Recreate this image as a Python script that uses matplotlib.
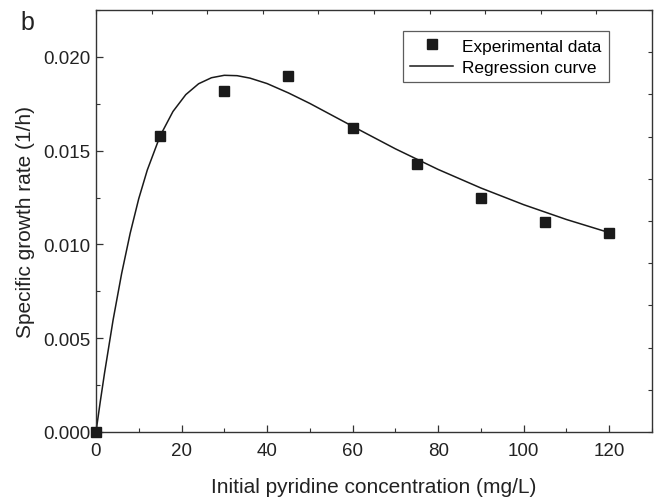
import numpy as np
import matplotlib
matplotlib.use("Agg")
import matplotlib.pyplot as plt
from matplotlib.ticker import MultipleLocator

# Experimental points
conc = [0, 15, 30, 45, 60, 75, 90, 105, 120]
rate = [0.0, 0.0158, 0.0182, 0.0190, 0.0162, 0.0143, 0.0125, 0.0112, 0.0106]

# Regression curve
curve_x = [0, 1, 2, 4, 6, 8, 10, 12, 15, 18, 21, 24, 27, 30, 33, 36, 40,
           45, 50, 55, 60, 70, 80, 90, 100, 110, 120]
curve_y = [0.0, 0.00161, 0.00314, 0.00597, 0.00845, 0.01060, 0.01244,
           0.01397, 0.01579, 0.01709, 0.01799, 0.01857, 0.01889, 0.01902,
           0.01900, 0.01887, 0.01858, 0.01808, 0.01752, 0.01691, 0.01630,
           0.01510, 0.01400, 0.01301, 0.01212, 0.01133, 0.01063]

plt.rcParams["font.family"] = ["Liberation Sans", "DejaVu Sans"]

fig = plt.figure(figsize=(6.56, 5.02), dpi=100)
ax = fig.add_axes([0.1463, 0.1375, 0.8476, 0.8405])

ax.plot(curve_x, curve_y, color="#1a1a1a", linewidth=1.1,
        label="Regression curve", zorder=2)
ax.plot(conc, rate, linestyle="none", marker="s", markersize=6.5,
        color="#1a1a1a", label="Experimental data", zorder=3, clip_on=False)

ax.set_xlim(0, 130)
ax.set_ylim(0, 0.0225)
ax.xaxis.set_major_locator(MultipleLocator(20))
ax.xaxis.set_minor_locator(MultipleLocator(10))
ax.yaxis.set_major_locator(MultipleLocator(0.005))
ax.yaxis.set_minor_locator(MultipleLocator(0.0025))
ax.yaxis.set_major_formatter(matplotlib.ticker.FormatStrFormatter("%.3f"))
ax.tick_params(which="both", direction="in", labelsize=13.5, color="#333333",
               labelcolor="#222222")
ax.tick_params(which="major", length=5, width=0.9)
ax.tick_params(which="minor", length=3, width=0.8)
ax.tick_params(axis="x", pad=7)
ax.tick_params(axis="y", pad=4)
for s in ax.spines.values():
    s.set_linewidth(1.0)
    s.set_color("#333333")

# top / right ticks follow their own spacing in the original
top = ax.twiny()
top.set_xlim(0, 130)
top.set_xticks(np.linspace(0, 130, 11))
top.tick_params(direction="in", length=3, width=0.8, labeltop=False,
                color="#333333")
right = ax.twinx()
right.set_ylim(0, 0.0225)
right.set_yticks(np.linspace(0, 0.0225, 11))
right.tick_params(direction="in", length=3, width=0.8, labelright=False,
                  color="#333333")
for a in (top, right):
    for s in a.spines.values():
        s.set_visible(False)

ax.set_xlabel("Initial pyridine concentration (mg/L)", fontsize=15,
              labelpad=13, color="#222222")
ax.set_ylabel("Specific growth rate (1/h)", fontsize=15, labelpad=6,
              color="#222222")

handles, labels = ax.get_legend_handles_labels()
leg = ax.legend(handles[::-1], labels[::-1], loc="upper right",
                bbox_to_anchor=(0.923, 0.951), borderaxespad=0,
                fontsize=12.4, frameon=True, fancybox=False,
                edgecolor="#333333", handlelength=2.5,
                borderpad=0.45, labelspacing=0.35, handletextpad=0.5)
leg.get_frame().set_linewidth(0.9)
leg.set_zorder(5)

fig.text(0.041, 0.955, "b", fontsize=18, ha="center", va="center",
         color="#222222")

fig.savefig("out.png", dpi=100)
